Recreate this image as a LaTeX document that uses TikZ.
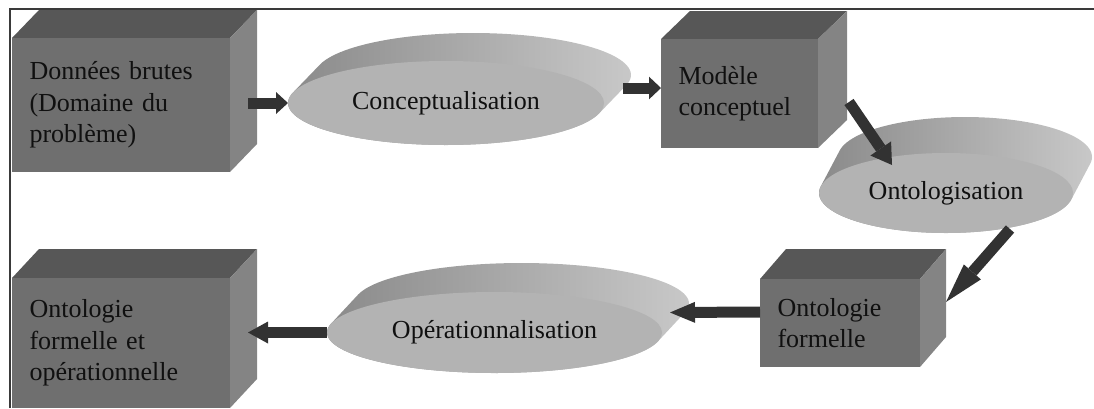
\documentclass[tikz,border=0pt]{standalone}
\usepackage{fontspec}
\setmainfont{Liberation Serif}
\usetikzlibrary{arrows.meta,calc,shapes.geometric}

\definecolor{framec}{HTML}{3A3A3A}
\definecolor{cubefrontc}{HTML}{6F6F6F}
\definecolor{cubetopc}{HTML}{575757}
\definecolor{cubesidec}{HTML}{848484}
\definecolor{discfrontc}{HTML}{B3B3B3}
\definecolor{discdark}{HTML}{8A8A8A}
\definecolor{discmid}{HTML}{9C9C9C}
\definecolor{disclight}{HTML}{C8C8C8}
\definecolor{arrowc}{HTML}{323232}
\definecolor{textc}{HTML}{101010}

\tikzset{
  lbltext/.style={font=\fontsize{19.5pt}{23.5pt}\selectfont, text=textc},
  cubefront/.style={rectangle, fill=cubefrontc, inner sep=0pt, outer sep=0pt, align=left, lbltext},
  cubetop/.style={fill=cubetopc},
  cubeside/.style={fill=cubesidec},
  discside/.style={left color=discdark, middle color=discmid, right color=disclight},
  discfront/.style={ellipse, fill=discfrontc, inner sep=0pt, outer sep=0pt, lbltext},
  flow/.style={draw=arrowc, line width=8.25pt},
  frame/.style={draw=framec, line width=1.1pt},
}

% 3D box: name, x1, y1, x2, y2 (front face), depth dx, dy, text
\newcommand{\cubebox}[8]{%
  \pgfmathsetlengthmacro\cubew{(#4-#2)*0.75pt}%
  \pgfmathsetlengthmacro\cubeh{(#5-#3)*0.75pt}%
  \pgfmathsetlengthmacro\cubetw{(#4-#2-35)*0.75pt}%
  \fill[cubetop] (#2,#3) -- ++(#6,#7) -- ++({#4-#2},0) -- (#4,#3) -- cycle;
  \fill[cubeside] (#4,#3) -- ++(#6,#7) -- ++(0,{#5-#3}) -- (#4,#5) -- cycle;
  \node[cubefront, minimum width=\cubew, minimum height=\cubeh, text width=\cubetw]
    (#1) at ({(#2+#4)/2},{(#3+#5)/2}) {#8};
}

% extruded disc: name, cx, cy, rx, ry, depth dx, dy, text
\newcommand{\disc}[8]{%
  \pgfmathsetmacro\dta{atan((#6)*(#5)/(-(#7)*(#4)))}%
  \pgfmathsetmacro\dtb{\dta+180}%
  \pgfmathsetmacro\dtc{\dta+360}%
  \pgfmathsetlengthmacro\discw{2*(#4)*0.75pt}%
  \pgfmathsetlengthmacro\disch{2*(#5)*0.75pt}%
  \shade[discside]
    plot[domain=\dta:\dtb, samples=60] ({(#2)+(#4)*cos(\x)},{(#3)+(#5)*sin(\x)})
    -- plot[domain=\dtb:\dtc, samples=60] ({(#2)+(#6)+(#4)*cos(\x)},{(#3)+(#7)+(#5)*sin(\x)})
    -- cycle;
  \node[discfront, minimum width=\discw, minimum height=\disch] (#1) at (#2,#3) {#8};
}

\begin{document}
\begin{tikzpicture}[x=0.75pt, y=-0.75pt]
\useasboundingbox (0,0) rectangle (1094,408);
\clip (0,0) rectangle (1094,408);

% frame
\draw[frame] (10,408) -- (10,9) -- (1094,9);

% boxes
\cubebox{raw}{12}{38}{230}{172}{27}{-28}{Données brutes\\(Domaine du\\problème)}
\cubebox{model}{661}{39}{818}{148}{29}{-28}{Modèle\\conceptuel}
\cubebox{form}{760}{279}{920}{367}{26}{-30}{Ontologie\\formelle}
\cubebox{fo}{12}{278}{230}{408}{27}{-29}{Ontologie\\formelle et\\opérationnelle}

% processes
\disc{concept}{446}{103}{158}{42}{27}{-28}{Conceptualisation}
\disc{onto}{946}{193}{127}{40}{19}{-36}{Ontologisation}
\disc{opera}{494.5}{332.5}{167.5}{40.5}{27}{-29}{Opérationnalisation}

% flow arrows
\draw[flow, -{Triangle[length=9pt, width=16.5pt, line width=0pt]}]
  ($(concept.west -| raw.east)+(18,0)$) -- (concept.west);
\draw[flow, -{Triangle[length=9pt, width=17pt, line width=0pt]}]
  ($(concept.east)+(19,-15)$) -- ($(model.west)+(0,-5.5)$);
\draw[flow, -{Triangle[length=15pt, width=18.75pt, line width=0pt]}]
  ($(model.south east)+(31,-46)$) -- ($(onto.center)+(-54,-28)$);
\draw[flow, -{Triangle[length=30pt, width=17pt, line width=0pt]}]
  ($(onto.center)+(64,36)$) -- ($(form.east)+(26,-21)$);
\draw[flow, -{Triangle[length=18.75pt, width=15.75pt, line width=0pt]}]
  ($(form.west)+(0,-11)$) -- ($(opera.east)+(8,-20)$);
\draw[flow, -{Triangle[length=15pt, width=16.5pt, line width=0pt]}]
  (opera.west) -- ($(opera.west -| fo.east)+(18,0)$);
\end{tikzpicture}
\end{document}
